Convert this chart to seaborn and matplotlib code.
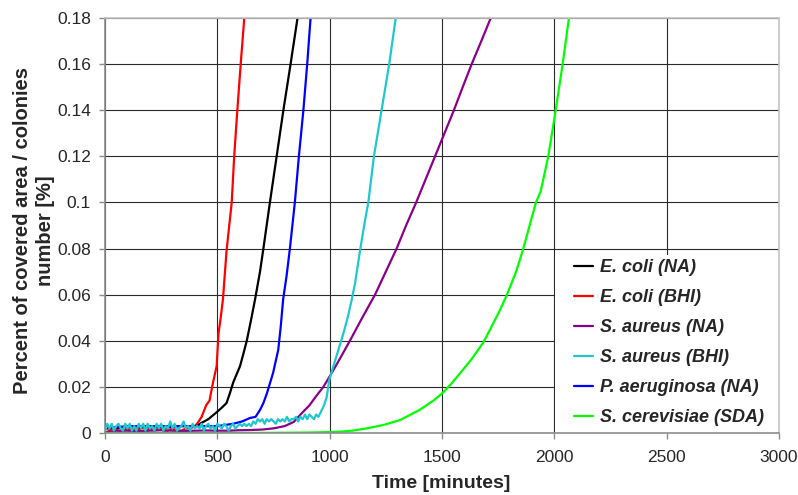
import numpy as np
import pandas as pd
import matplotlib
matplotlib.use("Agg")
import matplotlib.pyplot as plt
from matplotlib.patches import Rectangle
import seaborn as sns

# ---------------- data ----------------
series_names = ["E. coli (NA)", "E. coli (BHI)", "S. aureus (NA)",
                "S. aureus (BHI)", "P. aeruginosa (NA)", "S. cerevisiae (SDA)"]
series_colors = ["#000000", "#ff0000", "#8b008b", "#1ec8cc", "#0000ff", "#00ff00"]

ecoli_na_t = [0, 50, 100, 150, 200, 250, 290, 340, 380, 400, 423, 460, 497, 520, 541, 555,
              571, 601, 615, 631, 650, 668, 690, 705, 734, 764, 794, 826, 857, 870]
ecoli_na_v = [0.002, 0.002, 0.003, 0.002, 0.003, 0.002, 0.0026, 0.003, 0.003, 0.003, 0.004,
              0.006, 0.009, 0.011, 0.013, 0.017, 0.022, 0.029, 0.034, 0.040, 0.049, 0.058,
              0.070, 0.080, 0.100, 0.120, 0.140, 0.160, 0.180, 0.190]

ecoli_bhi_t = [0, 20, 40, 60, 80, 100, 120, 140, 160, 180, 200, 220, 240, 260, 280, 300,
               320, 340, 360, 380, 400, 410, 430, 450, 465, 481, 497, 505, 515, 525, 541,
               553, 564, 575, 589, 604, 620, 628]
ecoli_bhi_v = [0.000, 0.001, 0.002, 0.001, 0.001, 0.002, 0.001, 0.002, 0.001, 0.001, 0.002,
               0.001, 0.002, 0.001, 0.001, 0.002, 0.001, 0.001, 0.002, 0.002, 0.003, 0.004,
               0.007, 0.012, 0.014, 0.022, 0.029, 0.043, 0.050, 0.058, 0.079, 0.090, 0.100,
               0.120, 0.140, 0.160, 0.180, 0.190]

saureus_na_t = [0, 50, 100, 150, 200, 250, 300, 350, 400, 450, 500, 550, 600, 650, 700, 750,
                800, 840, 875, 910, 940, 972, 1009, 1050, 1090, 1145, 1202, 1250, 1298, 1340,
                1385, 1427, 1469, 1511, 1553, 1592, 1632, 1675, 1717, 1732]
saureus_na_v = [0.000, 0.001, 0.001, 0.0008, 0.001, 0.0012, 0.001, 0.0009, 0.001, 0.0011,
                0.001, 0.001, 0.0012, 0.0013, 0.0015, 0.002, 0.003, 0.0048, 0.0085, 0.012,
                0.016, 0.020, 0.026, 0.033, 0.040, 0.050, 0.060, 0.070, 0.080, 0.090, 0.100,
                0.110, 0.120, 0.130, 0.140, 0.150, 0.160, 0.170, 0.180, 0.190]

saureus_bhi_t = [0, 10, 20, 30, 40, 50, 60, 70, 80, 90, 100, 110, 120, 130, 140, 150, 160,
                 170, 180, 190, 200, 210, 220, 230, 240, 250, 260, 270, 280, 290, 300, 310,
                 320, 330, 340, 350, 360, 370, 380, 390, 400, 410, 420, 430, 440, 450, 460,
                 470, 480, 490, 500, 510, 520, 530, 540, 550, 560, 570, 580, 590, 600, 610,
                 620, 630, 640, 650, 660, 670, 680, 690, 700, 710, 720, 730, 740, 750, 760,
                 770, 780, 790, 800, 810, 820, 830, 840, 850, 860, 870, 880, 890, 900, 910,
                 920, 930, 940, 950, 960, 975, 987, 998, 1016, 1043, 1061, 1080, 1098, 1113,
                 1135, 1157, 1172, 1197, 1231, 1265, 1294, 1302]
saureus_bhi_v = [0.001, 0.004, 0.002, 0.004, 0.001, 0.003, 0.004, 0.002, 0.001, 0.004, 0.002,
                 0.004, 0.001, 0.003, 0.001, 0.004, 0.002, 0.004, 0.001, 0.004, 0.002, 0.003,
                 0.001, 0.004, 0.002, 0.004, 0.001, 0.003, 0.002, 0.005, 0.002, 0.004, 0.001,
                 0.002, 0.003, 0.005, 0.002, 0.003, 0.001, 0.004, 0.002, 0.003, 0.002, 0.004,
                 0.001, 0.003, 0.004, 0.002, 0.003, 0.001, 0.004, 0.003, 0.002, 0.004, 0.003,
                 0.001, 0.003, 0.004, 0.002, 0.003, 0.004, 0.003, 0.004, 0.003, 0.004, 0.003,
                 0.005, 0.004, 0.006, 0.005, 0.006, 0.004, 0.006, 0.005, 0.006, 0.005, 0.004,
                 0.006, 0.005, 0.006, 0.005, 0.007, 0.005, 0.006, 0.006, 0.007, 0.005, 0.007,
                 0.006, 0.008, 0.006, 0.008, 0.007, 0.006, 0.008, 0.007, 0.009, 0.012, 0.0157,
                 0.023, 0.0288, 0.0374, 0.0432, 0.050, 0.0577, 0.065, 0.079, 0.092, 0.100,
                 0.120, 0.140, 0.160, 0.180, 0.190]

paerug_t = [0, 100, 200, 300, 400, 500, 571, 610, 645, 670, 690, 705, 720, 748, 771, 782,
            793, 808, 823, 845, 863, 883, 900, 915, 923]
paerug_v = [0.002, 0.003, 0.003, 0.003, 0.003, 0.003, 0.004, 0.005, 0.0065, 0.007, 0.010,
            0.013, 0.017, 0.026, 0.036, 0.046, 0.058, 0.068, 0.080, 0.100, 0.120, 0.140,
            0.160, 0.180, 0.190]

scerev_t = [0, 200, 400, 600, 800, 900, 1000, 1050, 1100, 1165, 1240, 1313, 1400, 1461, 1501,
            1540, 1580, 1630, 1684, 1720, 1758, 1789, 1830, 1862, 1918, 1939, 1973, 2006,
            2037, 2065, 2072]
scerev_v = [0.000, 0.000, 0.000, 0.000, 0.0001, 0.0002, 0.0004, 0.0006, 0.001, 0.002,
            0.0035, 0.0056, 0.010, 0.0140, 0.0172, 0.0212, 0.0259, 0.0318, 0.0393, 0.046,
            0.0533, 0.060, 0.070, 0.080, 0.100, 0.1047, 0.120, 0.140, 0.160, 0.180, 0.190]

x_ticks = [0, 500, 1000, 1500, 2000, 2500, 3000]
y_ticks = [0, 0.02, 0.04, 0.06, 0.08, 0.1, 0.12, 0.14, 0.16, 0.18]
y_tick_labels = ["0", "0.02", "0.04", "0.06", "0.08", "0.1", "0.12", "0.14", "0.16", "0.18"]

series_data = {
    "E. coli (NA)": (ecoli_na_t, ecoli_na_v),
    "E. coli (BHI)": (ecoli_bhi_t, ecoli_bhi_v),
    "S. aureus (NA)": (saureus_na_t, saureus_na_v),
    "S. aureus (BHI)": (saureus_bhi_t, saureus_bhi_v),
    "P. aeruginosa (NA)": (paerug_t, paerug_v),
    "S. cerevisiae (SDA)": (scerev_t, scerev_v),
}
color_map = dict(zip(series_names, series_colors))
draw_order = ["E. coli (NA)", "E. coli (BHI)", "S. aureus (NA)", "P. aeruginosa (NA)",
              "S. aureus (BHI)", "S. cerevisiae (SDA)"]

# ---------------- style ----------------
sns.set_style("white")
plt.rcParams["font.family"] = ["Liberation Sans", "DejaVu Sans"]

fig = plt.figure(figsize=(7.98, 4.95), dpi=100)
ax = fig.add_axes([105 / 798, 1 - 433 / 495, 674 / 798, 415 / 495])

handles = {}
for name in draw_order:
    t, v = series_data[name]
    df = pd.DataFrame({"t": t, "v": v})
    sns.lineplot(data=df, x="t", y="v", ax=ax, color=color_map[name], lw=1.6,
                 estimator=None, sort=False, label=name, legend=False)
    handles[name] = ax.lines[-1]

ax.set_xlim(0, 3000)
ax.set_ylim(0, 0.18)
ax.set_xticks(x_ticks)
ax.set_xticklabels([str(x) for x in x_ticks])
ax.set_yticks(y_ticks)
ax.set_yticklabels(y_tick_labels)
ax.set_xlabel("")
ax.set_ylabel("")

ax.grid(True, color="#2a2a2a", lw=0.8)
ax.set_axisbelow(True)

for side in ["left", "bottom"]:
    ax.spines[side].set_color("#8c8c8c")
    ax.spines[side].set_linewidth(1.2)
for side in ["top", "right"]:
    ax.spines[side].set_color("#c4c4c4")
    ax.spines[side].set_linewidth(1.2)
    ax.spines[side].set_visible(True)

ax.tick_params(axis="x", direction="out", length=4, width=1, color="#8c8c8c",
               labelsize=12.5, pad=8, bottom=True)
ax.tick_params(axis="y", direction="out", length=4, width=1, color="#8c8c8c",
               labelsize=12.5, pad=6, left=True)

# white legend area
ax.add_patch(Rectangle(((555 - 105) / 674, 0), (779 - 555) / 674, (433 - 255) / 415,
                       transform=ax.transAxes, facecolor="white", edgecolor="none",
                       zorder=1.9))

leg = ax.legend([handles[n] for n in series_names], series_names,
                loc="upper left", bbox_to_anchor=((574 - 105) / 674, (433 - 259) / 415),
                frameon=False, borderpad=0, borderaxespad=0, handlelength=1.05,
                handletextpad=0.4, labelspacing=0.72,
                prop={"family": "Liberation Sans", "weight": "bold", "style": "italic",
                      "size": 13})
leg.set_zorder(3)

fig.text(441 / 798, 1 - 484 / 495, "Time [minutes]", ha="center", va="center",
         fontsize=14, fontweight="bold")
fig.text(34 / 798, 1 - 231 / 495, "Percent of covered area / colonies\nnumber [%]",
         ha="center", va="center", rotation=90, fontsize=14.5, fontweight="bold",
         multialignment="center", linespacing=1.3)

fig.savefig("out.png", dpi=100)
